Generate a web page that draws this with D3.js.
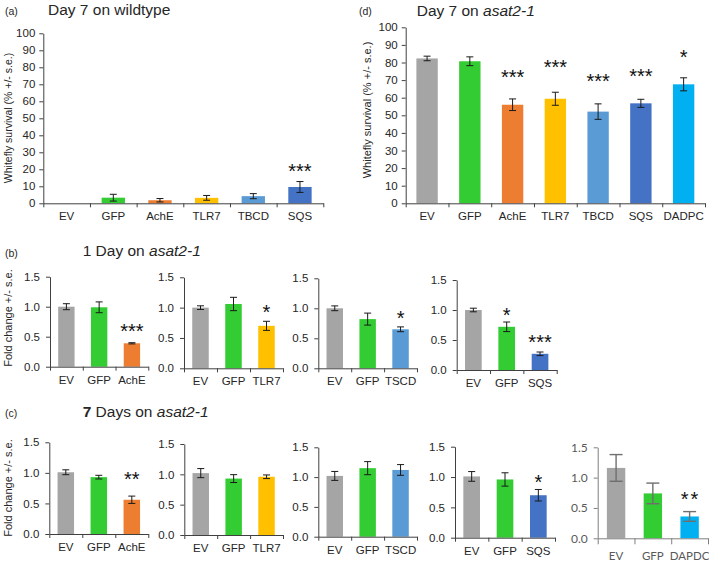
<!DOCTYPE html>
<html><head><meta charset="utf-8">
<script src="https://cdn.jsdelivr.net/npm/d3@7"></script>
<style>body{margin:0;background:#fff;}svg{display:block;}</style>
</head><body>
<svg id="chart" width="709" height="563"></svg>
<script>
// ---------- DATA ----------
const ticksSurvival = [0,10,20,30,40,50,60,70,80,90,100];
const ticksFold = [0,0.5,1.0,1.5];

// (a) Day 7 on wildtype
const catsA = ["EV","GFP","AchE","TLR7","TBCD","SQS"];
const valsA = [0, 3.3, 1.8, 3.2, 4.2, 9.6];
const errA  = [0, 2.0, 1.0, 1.4, 1.5, 3.2];
const sigA  = ["","","","","","***"];
const sigPosA = [null,null,null,null,null,21.9];

// (d) Day 7 on asat2-1
const catsD = ["EV","GFP","AchE","TLR7","TBCD","SQS","DADPC"];
const valsD = [82.3, 80.7, 56.0, 59.4, 52.1, 56.8, 67.6];
const errD  = [1.3, 2.5, 3.3, 3.7, 4.4, 2.3, 3.7];
const sigD  = ["","","***","***","***","***","*"];
const sigPosD = [null,null,74.6,80.3,72.3,75.2,86];

// (b) 1 Day on asat2-1
const catsB1 = ["EV","GFP","AchE"]; const valsB1 = [1.0,0.99,0.39]; const errB1 = [0.05,0.09,0.01];
const sigB1 = ["","","***"]; const sigPosB1 = [null,null,0.67];
const catsB2 = ["EV","GFP","TLR7"]; const valsB2 = [1.0,1.06,0.70]; const errB2 = [0.03,0.11,0.075];
const sigB2 = ["","","*"]; const sigPosB2 = [null,null,1.01];
const catsB3 = ["EV","GFP","TSCD"]; const valsB3 = [1.0,0.82,0.65]; const errB3 = [0.04,0.10,0.04];
const sigB3 = ["","","*"]; const sigPosB3 = [null,null,0.92];
const catsB4 = ["EV","GFP","SQS"]; const valsB4 = [1.0,0.72,0.27]; const errB4 = [0.03,0.08,0.03];
const sigB4 = ["","*","***"]; const sigPosB4 = [null,1.0,0.55];

// (c) 7 Days on asat2-1
const catsC1 = ["EV","GFP","AchE"]; const valsC1 = [1.01,0.93,0.56]; const errC1 = [0.04,0.03,0.06];
const sigC1 = ["","","**"]; const sigPosC1 = [null,null,0.98];
const catsC2 = ["EV","GFP","TLR7"]; const valsC2 = [1.02,0.93,0.96]; const errC2 = [0.075,0.065,0.03];
const sigC2 = ["","",""]; const sigPosC2 = [null,null,null];
const catsC3 = ["EV","GFP","TSCD"]; const valsC3 = [1.02,1.15,1.12]; const errC3 = [0.075,0.11,0.09];
const sigC3 = ["","",""]; const sigPosC3 = [null,null,null];
const catsC4 = ["EV","GFP","SQS"]; const valsC4 = [1.01,0.96,0.70]; const errC4 = [0.08,0.11,0.095];
const sigC4 = ["","","*"]; const sigPosC4 = [null,null,0.99];
const catsC5 = ["EV","GFP","DAPDC"]; const valsC5 = [1.16,0.74,0.36]; const errC5 = [0.22,0.17,0.08];
const sigC5 = ["","","**"]; const sigPosC5 = [null,null,0.72];

const colorOf = {EV:"#a5a5a5", GFP:"#33cc33", AchE:"#ed7d31", TLR7:"#ffc000",
  TBCD:"#5b9bd5", TSCD:"#5b9bd5", SQS:"#4472c4", DADPC:"#00b0f0", DAPDC:"#00b0f0"};

// ---------- DRAW ----------
const svg = d3.select("#chart");
const FONT = "'Liberation Sans', Arial, sans-serif";
const ALT = "Lato, 'Open Sans', sans-serif";
const INK = "#262626";

function panel(o){
  const g = svg.append("g");
  const n = o.cats.length;
  const x = d3.scaleBand().domain(o.cats).range([o.x0,o.x1]).paddingInner(0.5).paddingOuter(0.25);
  const xb = d3.scaleLinear().domain([0,n]).range([o.x0,o.x1]);
  const y = d3.scaleLinear().domain([0,o.yMax]).range([o.yZero,o.yTop]);
  const font = o.alt ? ALT : FONT;
  const axisCol = o.alt ? "#7f7f7f" : "#404040";
  const textCol = o.alt ? "#595959" : INK;

  // bars
  g.selectAll("rect.bar").data(o.cats).enter().append("rect")
    .attr("x", d=>x(d)).attr("width", x.bandwidth())
    .attr("y", (d,i)=>y(o.vals[i])).attr("height",(d,i)=>y(0)-y(o.vals[i]))
    .attr("fill", d=>colorOf[d]);

  // error bars
  const cw = o.alt ? 6.5 : 3.5;
  const ecol = o.alt ? "#6f6f6f" : "#1a1a1a";
  const ew = o.alt ? 1.4 : 1;
  o.cats.forEach((c,i)=>{
    if(!o.errs[i]) return;
    const cx = x(c)+x.bandwidth()/2;
    const t = y(o.vals[i]+o.errs[i]), b = y(Math.max(0,o.vals[i]-o.errs[i]));
    g.append("line").attr("x1",cx).attr("x2",cx).attr("y1",t).attr("y2",b).attr("stroke",ecol).attr("stroke-width",ew);
    g.append("line").attr("x1",cx-cw).attr("x2",cx+cw).attr("y1",t).attr("y2",t).attr("stroke",ecol).attr("stroke-width",ew);
    g.append("line").attr("x1",cx-cw).attr("x2",cx+cw).attr("y1",b).attr("y2",b).attr("stroke",ecol).attr("stroke-width",ew);
  });

  // y axis
  const ya = g.append("g").attr("transform",`translate(${o.x0},0)`)
    .call(d3.axisLeft(y).tickValues(o.ticks).tickFormat(o.fmt).tickSize(4).tickSizeOuter(0).tickPadding(o.yPad||4));
  ya.selectAll("path,line").attr("stroke",axisCol);
  ya.selectAll("text").attr("font-family",font).attr("font-size",o.alt?12:11.5).attr("fill",textCol);

  // x axis with ticks at band boundaries
  const xa = g.append("g").attr("transform",`translate(0,${o.yZero})`)
    .call(d3.axisBottom(xb).tickValues(d3.range(n+1)).tickFormat("").tickSize(o.alt?6:4).tickSizeOuter(0));
  xa.selectAll("path,line").attr("stroke",axisCol);
  g.selectAll("text.cat").data(o.cats).enter().append("text")
    .attr("x", d=>x(d)+x.bandwidth()/2).attr("y", o.yZero+(o.alt?21.5:16.8))
    .attr("text-anchor","middle").attr("font-family",font).attr("font-size",11.5).attr("fill",textCol)
    .text(d=>d);

  // significance
  o.cats.forEach((c,i)=>{
    if(!o.sigs[i]) return;
    g.append("text").attr("x", x(c)+x.bandwidth()/2 + (o.alt?1:0)).attr("y", y(o.sigPos[i])).attr("dy","0.58em")
      .attr("text-anchor","middle").attr("font-family",FONT).attr("font-size",20)
      .attr("letter-spacing", o.alt? "2px":"0px").attr("fill","#111").text(o.sigs[i]);
  });
}

const fInt = d3.format("d"), fDec = d3.format(".1f");

panel({cats:catsA, vals:valsA, errs:errA, sigs:sigA, sigPos:sigPosA, x0:43.3, x1:323.3, yZero:203.3, yTop:33.3, yMax:100, ticks:ticksSurvival, fmt:fInt});
panel({cats:catsD, vals:valsD, errs:errD, sigs:sigD, sigPos:sigPosD, x0:405.7, x1:705, yZero:203.3, yTop:27.3, yMax:100, ticks:ticksSurvival, fmt:fInt});

panel({cats:catsB1, vals:valsB1, errs:errB1, sigs:sigB1, sigPos:sigPosB1, x0:50, x1:148.3, yZero:366.7, yTop:276.7, yMax:1.5, ticks:ticksFold, fmt:fDec, yPad:6});
panel({cats:catsB2, vals:valsB2, errs:errB2, sigs:sigB2, sigPos:sigPosB2, x0:184, x1:283, yZero:368.3, yTop:277.3, yMax:1.5, ticks:ticksFold, fmt:fDec, yPad:6});
panel({cats:catsB3, vals:valsB3, errs:errB3, sigs:sigB3, sigPos:sigPosB3, x0:318.3, x1:417, yZero:368.3, yTop:278.3, yMax:1.5, ticks:ticksFold, fmt:fDec, yPad:6});
panel({cats:catsB4, vals:valsB4, errs:errB4, sigs:sigB4, sigPos:sigPosB4, x0:456.7, x1:556.7, yZero:370, yTop:280, yMax:1.5, ticks:ticksFold, fmt:fDec, yPad:6});

panel({cats:catsC1, vals:valsC1, errs:errC1, sigs:sigC1, sigPos:sigPosC1, x0:49.3, x1:148.3, yZero:534, yTop:442.3, yMax:1.5, ticks:ticksFold, fmt:fDec, yPad:6});
panel({cats:catsC2, vals:valsC2, errs:errC2, sigs:sigC2, sigPos:sigPosC2, x0:184.3, x1:283, yZero:535, yTop:444, yMax:1.5, ticks:ticksFold, fmt:fDec, yPad:6});
panel({cats:catsC3, vals:valsC3, errs:errC3, sigs:sigC3, sigPos:sigPosC3, x0:318.3, x1:417, yZero:536.7, yTop:447.3, yMax:1.5, ticks:ticksFold, fmt:fDec, yPad:6});
panel({cats:catsC4, vals:valsC4, errs:errC4, sigs:sigC4, sigPos:sigPosC4, x0:455, x1:555, yZero:537.7, yTop:446.7, yMax:1.5, ticks:ticksFold, fmt:fDec, yPad:6});
panel({cats:catsC5, vals:valsC5, errs:errC5, sigs:sigC5, sigPos:sigPosC5, x0:597.7, x1:708, yZero:538.3, yTop:447.3, yMax:1.5, ticks:ticksFold, fmt:fDec, yPad:6, alt:true});

// ---------- TEXT ----------
function txt(x,y,s,size,opts={}){
  const t = svg.append("text").attr("x",x).attr("y",y).attr("font-family",FONT).attr("font-size",size).attr("fill",INK);
  if(opts.anchor) t.attr("text-anchor",opts.anchor);
  if(opts.rotate) t.attr("transform",`rotate(-90,${x},${y})`);
  if(Array.isArray(s)) s.forEach(p=>{ const ts=t.append("tspan").text(p.t); if(p.i) ts.attr("font-style","italic"); if(p.b) ts.attr("font-weight","bold"); });
  else t.text(s);
  return t;
}
txt(5,14.5,"(a)",10.5);
txt(48,14.5,"Day 7 on wildtype",15.5);
txt(359,15,"(d)",10.5);
txt(416.7,15.5,[{t:"Day 7 on "},{t:"asat2-1",i:true}],15.5);
txt(5,256.5,"(b)",10.5);
txt(82.7,256,[{t:"1 Day on "},{t:"asat2-1",i:true}],15.5);
txt(5,416.5,"(c)",10.5);
txt(82.7,417,[{t:"7",b:true},{t:" Days on "},{t:"asat2-1",i:true}],15.5);

txt(12,118,"Whitefly survival (% +/- s.e.)",10.5,{anchor:"middle",rotate:true});
txt(370.5,110,"Whitefly survival (% +/- s.e.)",11,{anchor:"middle",rotate:true});
txt(12,318,"Fold change +/- s.e.",11,{anchor:"middle",rotate:true});
txt(12,488,"Fold change +/- s.e.",11,{anchor:"middle",rotate:true});
</script>
</body></html>
